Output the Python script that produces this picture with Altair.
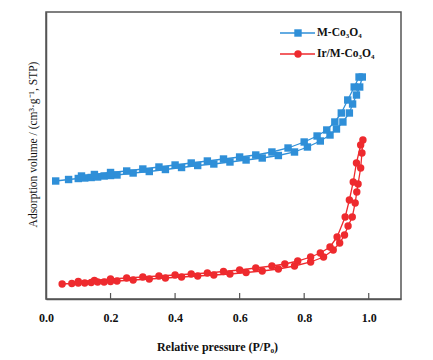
import altair as alt
import pandas as pd

# Relative pressure (P/P0) and adsorbed volume (arbitrary offset units)
blue_ads_p = [0.03, 0.07, 0.10, 0.12, 0.14, 0.16, 0.18, 0.20, 0.22, 0.27, 0.32, 0.37, 0.42, 0.47,
              0.52, 0.57, 0.62, 0.67, 0.72, 0.77, 0.81, 0.85, 0.88, 0.90, 0.92, 0.94, 0.95, 0.962,
              0.972, 0.98]
blue_ads_v = [118, 119.5, 120.5, 121, 121.5, 122, 123, 123.5, 124, 126, 127.5, 129.5, 131.5, 133.5,
              135, 137, 139, 141, 143.5, 147, 152, 158, 164, 170, 177, 186, 195, 204,
              212, 222]
blue_des_p = [0.97, 0.955, 0.935, 0.915, 0.895, 0.87, 0.84, 0.80, 0.75, 0.70, 0.65, 0.60, 0.55,
              0.50, 0.45, 0.40, 0.35, 0.30, 0.25, 0.20, 0.15, 0.11]
blue_des_v = [222, 212, 199, 186, 177, 169, 163, 157, 151, 147, 144, 142, 140,
              138, 136, 134, 132, 130, 128, 126.5, 124.5, 123]

red_ads_p = [0.05, 0.08, 0.10, 0.12, 0.14, 0.16, 0.18, 0.20, 0.22, 0.27, 0.32, 0.37, 0.42, 0.47,
             0.52, 0.57, 0.62, 0.67, 0.72, 0.77, 0.82, 0.86, 0.89, 0.91, 0.925, 0.936, 0.949,
             0.958, 0.963, 0.967, 0.975, 0.979, 0.982]
red_ads_v = [15, 15.5, 16, 16, 16.5, 17, 17, 17.5, 18, 19, 20, 21, 22, 23,
             24, 25, 26.5, 28, 30, 33, 37, 42, 49, 56, 64, 73, 82,
             96, 107, 115, 131, 146, 159]
red_des_p = [0.975, 0.962, 0.952, 0.94, 0.927, 0.902, 0.88, 0.85, 0.82, 0.78, 0.74, 0.70, 0.65,
             0.60, 0.55, 0.50, 0.45, 0.40, 0.35, 0.30, 0.25, 0.20, 0.15, 0.10]
red_des_v = [154, 136, 117, 99, 82, 62, 52, 46, 42, 38, 35, 33, 31,
             29, 27.5, 26, 25, 24, 23, 22, 21, 20, 18.5, 17.5]

series_names = ["M-Co₃O₄", "Ir/M-Co₃O₄"]
series_colors = ["#2F8FD8", "#EE2A2E"]
series_shapes = ["square", "circle"]
x_ticks = [0.0, 0.2, 0.4, 0.6, 0.8, 1.0]

rows = []
for name, branch, ps, vs in [
    (series_names[0], "ads", blue_ads_p, blue_ads_v),
    (series_names[0], "des", blue_des_p, blue_des_v),
    (series_names[1], "ads", red_ads_p, red_ads_v),
    (series_names[1], "des", red_des_p, red_des_v),
]:
    for i, (p, v) in enumerate(zip(ps, vs)):
        rows.append({"series": name, "key": name + branch, "p": p, "v": v, "i": i})
df = pd.DataFrame(rows)

SERIF = "Liberation Serif"
FRAME = "#555555"

x_enc = alt.X(
    "p:Q",
    scale=alt.Scale(domain=[0, 1.1], nice=False, zero=False),
    axis=alt.Axis(
        values=x_ticks, format=".1f", ticks=False, grid=False, labelFlush=False,
        labelFont=SERIF, labelFontWeight="bold", labelFontSize=12, labelColor="#111",
        labelPadding=13,
        title="Relative pressure (P/P₀)", titleFont=SERIF, titleFontWeight="bold",
        titleFontSize=12, titleColor="#111", titlePadding=18, titleX=171,
        domainColor=FRAME, domainWidth=1.5,
    ),
)
y_enc = alt.Y(
    "v:Q",
    scale=alt.Scale(domain=[0, 287], nice=False, zero=False),
    axis=alt.Axis(
        labels=False, ticks=False, grid=False,
        title="Adsorption volume / (cm³·g⁻¹, STP)", titleFont=SERIF, titleFontWeight="normal",
        titleFontSize=11.5, titleColor="#111", titleAngle=-90, titleX=-13, titleY=132,
        titleAlign="center", titleBaseline="middle",
        domainColor=FRAME, domainWidth=1.5,
    ),
)
color_enc = alt.Color("series:N", scale=alt.Scale(domain=series_names, range=series_colors), legend=None)
shape_enc = alt.Shape("series:N", scale=alt.Scale(domain=series_names, range=series_shapes), legend=None)

lines = alt.Chart(df).mark_line(strokeWidth=1.3).encode(
    x=x_enc, y=y_enc, color=color_enc, detail="key:N", order="i:Q"
)
points = alt.Chart(df).mark_point(filled=True, size=55, opacity=1).encode(
    x=x_enc, y=y_enc, color=color_enc, shape=shape_enc
)

tick_df = pd.DataFrame({"p": x_ticks[1:]})
ticks = alt.Chart(tick_df).mark_rule(color=FRAME, strokeWidth=1.2).encode(
    x="p:Q", y=alt.value(287), y2=alt.value(281)
)

# legend
leg_layers = []
for idx, (name, col, shp) in enumerate(zip(series_names, series_colors, series_shapes)):
    ly = 21 + idx * 21
    ldf = pd.DataFrame({"series": [name]})
    base = alt.Chart(ldf)
    leg_layers.append(base.mark_rule(color=col, strokeWidth=1.3).encode(
        x=alt.value(234), x2=alt.value(269), y=alt.value(ly)))
    leg_layers.append(base.mark_point(filled=True, size=55, opacity=1, color=col, shape=shp).encode(
        x=alt.value(252), y=alt.value(ly)))
    leg_layers.append(base.mark_text(align="left", baseline="middle", font=SERIF, fontWeight="bold",
                                     fontSize=11.5, color="#111").encode(
        x=alt.value(271), y=alt.value(ly), text="series:N"))

chart = alt.layer(lines, points, ticks, *leg_layers).properties(
    width=355, height=287,
    autosize=alt.AutoSizeParams(type="none"),
    padding={"left": 38, "top": 4, "right": 16, "bottom": 60},
).configure_view(stroke=FRAME, strokeWidth=1.5)

chart.save("out.html", embed_options={"renderer": "svg", "actions": False})
